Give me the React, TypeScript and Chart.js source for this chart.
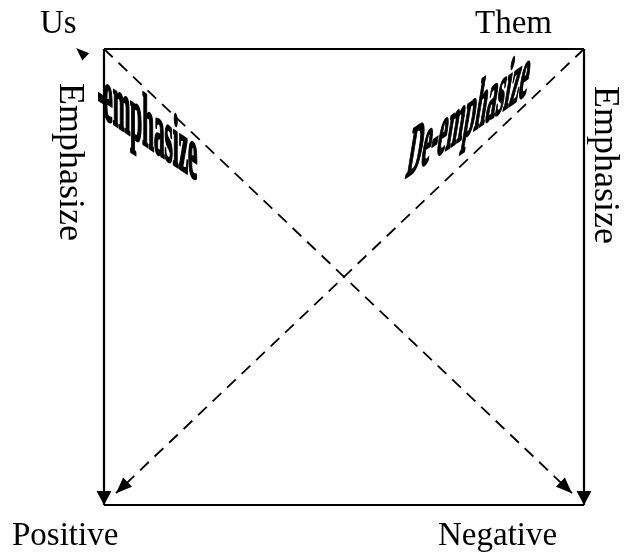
import { useEffect, useRef } from "react";
import { Chart, registerables } from "chart.js";
Chart.register(...registerables);

// Square edges (data units: x 0..1 left→right, y 0..1 bottom→top)
const topEdge = [{ x: 0, y: 1 }, { x: 1, y: 1 }];
const leftEdge = [{ x: 0, y: 1 }, { x: 0, y: 0 }];
const rightEdge = [{ x: 1, y: 1 }, { x: 1, y: 0 }];
const bottomEdge = [{ x: 0, y: 0 }, { x: 1, y: 0 }];
// Dashed diagonals ending in arrowheads
const diagonalUs = [{ x: 0, y: 1 }, { x: 0.975, y: 0.026 }];
const diagonalThem = [{ x: 1, y: 1 }, { x: 0.025, y: 0.026 }];
// Small stray arrowhead above top-left corner
const stubArrow = [{ x: -0.035, y: 0.98 }, { x: -0.058, y: 1.002 }];

const cornerLabels = ["Us", "Them", "Positive", "Negative"];
const sideLabels = ["Emphasize", "Emphasize"];
const diagonalLabels = ["De-emphasize", "De-emphasize"];

function arrowHead(ctx: CanvasRenderingContext2D, x0: number, y0: number, x1: number, y1: number, len: number, half: number) {
  const dx = x1 - x0, dy = y1 - y0;
  const d = Math.hypot(dx, dy) || 1;
  const ux = dx / d, uy = dy / d;
  const bx = x1 - ux * len, by = y1 - uy * len;
  ctx.beginPath();
  ctx.moveTo(x1, y1);
  ctx.lineTo(bx - uy * half, by + ux * half);
  ctx.lineTo(bx + uy * half, by - ux * half);
  ctx.closePath();
  ctx.fill();
}

function wordArt(ctx: CanvasRenderingContext2D, text: string, ox: number, oy: number, m: number[]) {
  ctx.save();
  ctx.translate(ox, oy);
  ctx.transform(m[0], m[1], m[2], m[3], 0, 0);
  ctx.lineJoin = "round";
  ctx.lineWidth = 1.6;
  ctx.strokeStyle = "#000";
  ctx.fillText(text, 0, 0);
  ctx.strokeText(text, 0, 0);
  ctx.restore();
}

const diagramPlugin = {
  id: "diagram",
  afterDatasetsDraw(chart: any) {
    const ctx: CanvasRenderingContext2D = chart.ctx;
    const { left, right, top, bottom } = chart.chartArea;
    const xs = chart.scales.x, ys = chart.scales.y;
    ctx.save();
    ctx.fillStyle = "#000";
    // arrowheads
    chart.data.datasets.forEach((ds: any) => {
      if (!ds.arrow) return;
      const n = ds.data.length;
      const p0 = ds.data[n - 2], p1 = ds.data[n - 1];
      arrowHead(ctx, xs.getPixelForValue(p0.x), ys.getPixelForValue(p0.y), xs.getPixelForValue(p1.x), ys.getPixelForValue(p1.y), ds.arrow[0], ds.arrow[1]);
    });
    arrowHead(ctx, xs.getPixelForValue(stubArrow[0].x), ys.getPixelForValue(stubArrow[0].y), xs.getPixelForValue(stubArrow[1].x), ys.getPixelForValue(stubArrow[1].y), 13, 5);

    // corner labels
    ctx.font = '33px "Liberation Serif"';
    ctx.textBaseline = "alphabetic";
    ctx.textAlign = "left";
    ctx.fillText(cornerLabels[0], left - 64, top - 16);
    ctx.textAlign = "right";
    ctx.fillText(cornerLabels[1], right - 32, top - 16);
    ctx.textAlign = "left";
    ctx.fillText(cornerLabels[2], left - 92, bottom + 40);
    ctx.fillText(cornerLabels[3], right - 146, bottom + 40);

    // side labels (rotated)
    ctx.font = '36px "Liberation Serif"';
    ctx.save();
    ctx.translate(left - 44, top + 34);
    ctx.rotate(Math.PI / 2);
    ctx.fillText(sideLabels[0], 0, 0);
    ctx.restore();
    ctx.save();
    ctx.translate(right + 11, top + 37);
    ctx.rotate(Math.PI / 2);
    ctx.fillText(sideLabels[1], 0, 0);
    ctx.restore();

    // WordArt-like diagonal labels
    ctx.font = 'bold 40px "Liberation Serif"';
    ctx.save();
    ctx.beginPath();
    ctx.rect(left - 6, top, right - left, bottom - top);
    ctx.clip();
    wordArt(ctx, diagonalLabels[0], left - 32.5, top + 47, [0.53, 0.355, 0, 1.85]);
    ctx.restore();

    wordArt(ctx, diagonalLabels[1], left + 301, top + 129, [0.51, -0.352, -0.3, 1.85]);

    ctx.restore();
  },
};

export default function App() {
  const ref = useRef<HTMLCanvasElement | null>(null);
  useEffect(() => {
    if (!ref.current) return;
    const solid = (data: any, arrow?: number[]) => ({
      data, showLine: true, borderColor: "#000", borderWidth: 2.2, pointRadius: 0, fill: false, clip: false, arrow,
    });
    const dashed = (data: any, arrow?: number[]) => ({
      data, showLine: true, borderColor: "#000", borderWidth: 1.8, borderDash: [12, 8], pointRadius: 0, fill: false, clip: false, arrow,
    });
    const chart = new Chart(ref.current, {
      type: "scatter",
      data: {
        datasets: [
          solid(topEdge),
          solid(leftEdge, [14, 7.5]),
          solid(rightEdge, [14, 7.5]),
          solid(bottomEdge),
          dashed(diagonalUs, [16, 6.5]),
          dashed(diagonalThem, [16, 6.5]),
        ] as any,
      },
      options: {
        responsive: false,
        animation: false,
        events: [],
        layout: { padding: { left: 104, right: 42, top: 49, bottom: 48 } },
        scales: {
          x: { type: "linear", min: 0, max: 1, display: false },
          y: { type: "linear", min: 0, max: 1, display: false },
        },
        plugins: { legend: { display: false }, tooltip: { enabled: false } },
      },
      plugins: [diagramPlugin],
    });
    return () => chart.destroy();
  }, []);
  return (
    <div style={{ position: "fixed", left: 0, top: 0, width: 626, height: 553, background: "#fff" }}>
      <canvas ref={ref} width={626} height={553} />
    </div>
  );
}
